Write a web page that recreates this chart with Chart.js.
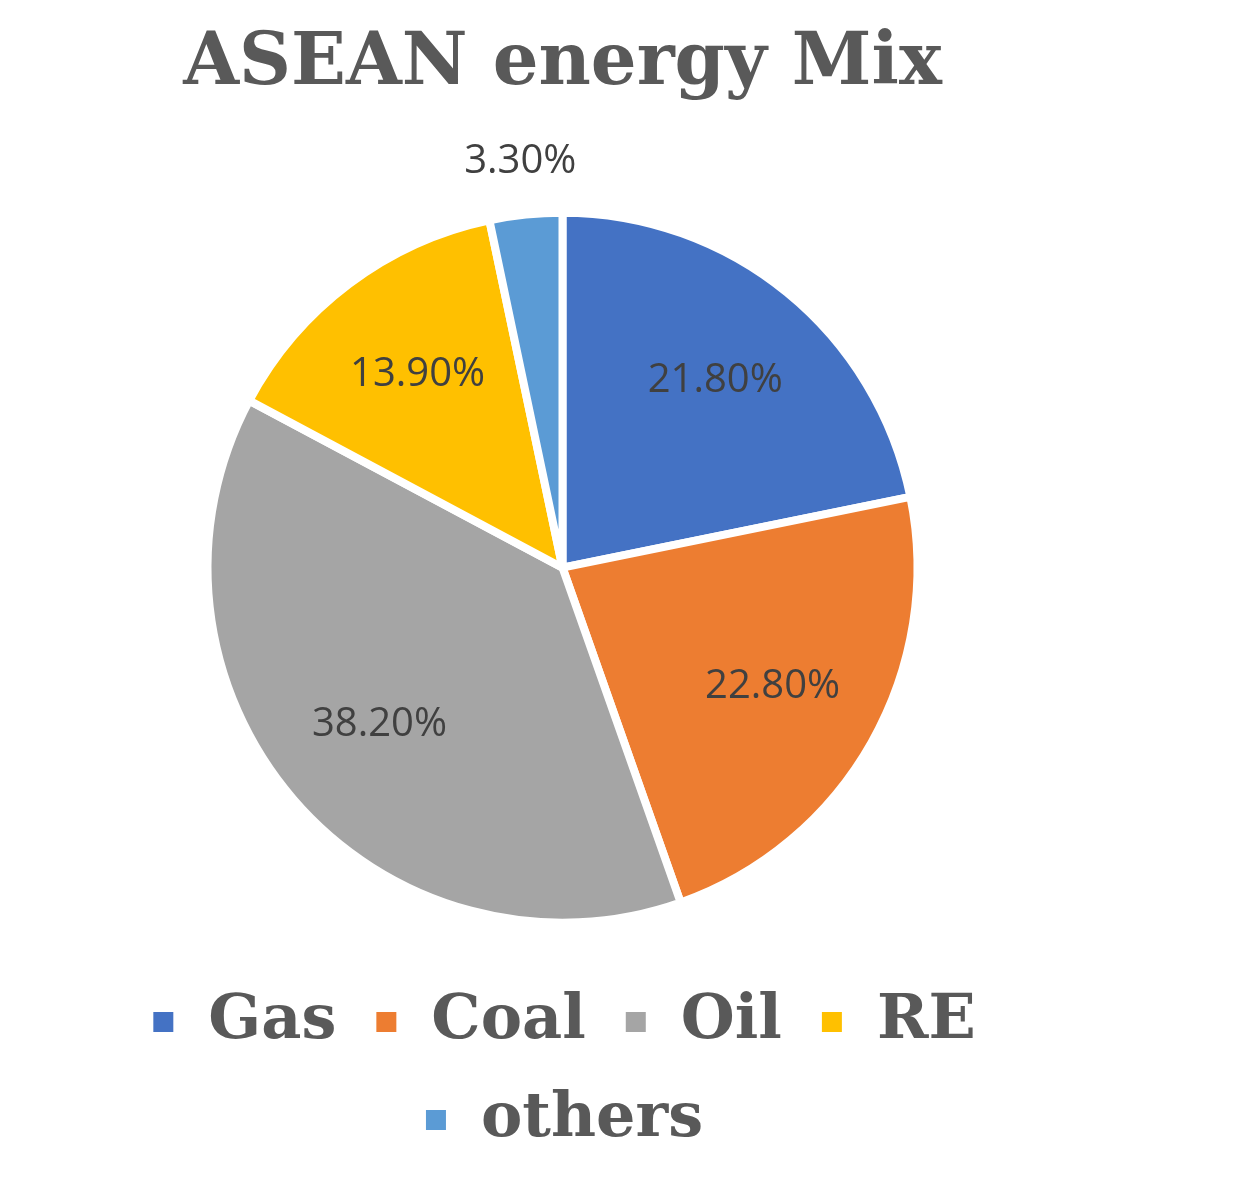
<!DOCTYPE html>
<html><head><meta charset="utf-8">
<script src="https://cdn.jsdelivr.net/npm/chart.js@4"></script>
<style>html,body{margin:0;background:#fff}#w{width:1241px;height:1183px}</style>
</head><body><div id="w"><canvas id="c"></canvas></div>
<script>
const categories=["Gas","Coal","Oil","RE","others"];
const values=[21.8,22.8,38.2,13.9,3.3];
const labels=["21.80%","22.80%","38.20%","13.90%","3.30%"];
const colors=["#4472C4","#ED7D31","#A5A5A5","#FFC000","#5B9BD5"];
const lbl={id:'lbl',afterDatasetsDraw(ch){const ctx=ch.ctx;const m=ch.getDatasetMeta(0);
ctx.save();ctx.font='40px "Open Sans"';ctx.fillStyle='#404040';ctx.textAlign='center';ctx.textBaseline='middle';
m.data.forEach((a,i)=>{const ang=(a.startAngle+a.endAngle)/2;const f=i===4?1.15:0.68;
ctx.fillText(labels[i],a.x+Math.cos(ang)*a.outerRadius*f,a.y+Math.sin(ang)*a.outerRadius*f);});ctx.restore();}};
new Chart(document.getElementById('c'),{type:'pie',data:{labels:categories,datasets:[{data:values,backgroundColor:colors,borderColor:'#fff',borderWidth:8,radius:355}]},
options:{responsive:true,maintainAspectRatio:false,animation:false,layout:{padding:{top:0,bottom:22,right:116}},
plugins:{tooltip:{enabled:false},title:{display:true,text:'ASEAN energy Mix',color:'#595959',font:{family:'"DejaVu Serif"',size:72,weight:'bold'},padding:{top:22,bottom:72}},
legend:{position:'bottom',labels:{color:'#595959',font:{family:'"DejaVu Serif"',size:62,weight:'bold'},boxWidth:28,boxHeight:28,padding:36}}}},plugins:[lbl]});
</script></body></html>
